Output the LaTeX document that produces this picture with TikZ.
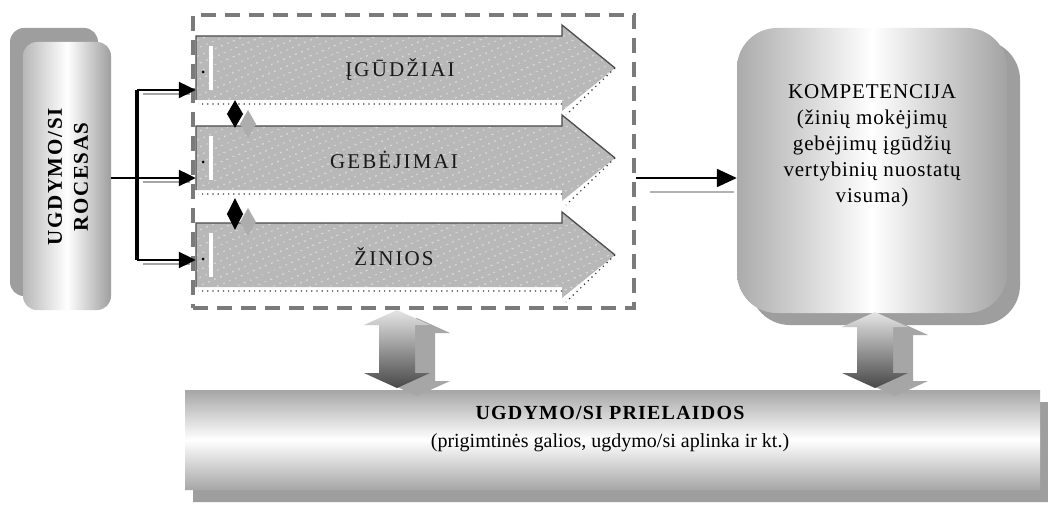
\documentclass[tikz,border=0pt]{standalone}
\usepackage{fontspec}
\setmainfont{Liberation Serif}
\usetikzlibrary{arrows.meta,patterns.meta,shapes.misc,calc}
\definecolor{argray}{HTML}{B8B8B8}
\definecolor{dashgray}{HTML}{7A7A7A}
\newcommand\skillarrow[1]{%
  \fill[argray] (196,#1-32) -- (562,#1-32) -- (562,#1-43) -- (615,#1) -- (562,#1+43) -- (562,#1+32) -- (196,#1+32) -- cycle;
  \fill[pattern={Dots[radius=0.7pt,distance=6.5pt,angle=23]}, pattern color=white] (196,#1-32) -- (562,#1-32) -- (562,#1-43) -- (615,#1) -- (562,#1+43) -- (562,#1+32) -- (196,#1+32) -- cycle;
  \draw[black!70, line width=1.3pt] (196,#1+32) -- (196,#1-32) -- (562,#1-32) -- (562,#1-43) -- (615,#1);
  \draw[black!80, line width=1.2pt, dash pattern=on 1.2pt off 4pt] (615,#1) -- (566,#1+47) (562,#1+36) -- (198,#1+36);
  \fill[white] (209,#1-22) rectangle (213,#1+22);
  \fill[black] (203,#1+4) circle (1.5);
}
\newcommand\vdarrow[3]{%
  (#1,#2) -- (#1+33,#2+15) -- (#1+18,#2+15) -- (#1+18,#3-15) -- (#1+33,#3-15) -- (#1,#3) -- (#1-33,#3-15) -- (#1-18,#3-15) -- (#1-18,#2+15) -- (#1-33,#2+15) -- cycle
}
\begin{document}
\begin{tikzpicture}[x=1pt,y=-1pt,
  lbl/.style={font=\fontsize{21}{24}\selectfont\addfontfeature{LetterSpace=10}, text=black!90, inner sep=0},
  conn/.style={line width=2.2pt, -{Triangle[length=17pt,width=16pt]}},
  ghost/.style={draw=black!35, line width=1.5pt},
  shadowfill/.style={fill=black!38},
  diamA/.style={{Triangle[length=14pt,width=16pt]}-{Triangle[length=14pt,width=16pt]}, line width=1pt},
  diamB/.style={{Triangle[length=16pt,width=16pt]}-{Triangle[length=16pt,width=16pt]}, line width=1pt},
  bodybox/.style={minimum width=366, minimum height=64, inner sep=0},
]
\useasboundingbox (0,0) rectangle (1048,505);
\fill[white] (0,0) rectangle (1048,505);

% left process box
\fill[shadowfill, rounded corners=14pt] (10,28) rectangle (98,296);
\node[rounded corners=14pt, minimum width=88, minimum height=268, inner sep=0,
  left color=black!28, right color=black!38, middle color=white] (proc) at (67,176) {};
\node[rotate=90, font=\bfseries\fontsize{21}{26}\selectfont\addfontfeature{LetterSpace=8}, align=center] (proctext) at (68,177) {UGDYMO/SI\\ROCESAS};

% dashed group
\node[draw=dashgray, line width=3.5pt, dash pattern=on 15pt off 9pt, minimum width=441, minimum height=293, inner sep=0] (grp) at (413.5,161.5) {};

% skill arrows
\skillarrow{68}
\skillarrow{158}
\skillarrow{255}
\node[bodybox] (b1) at (379,68) {};
\node[bodybox] (b2) at (379,158) {};
\node[bodybox] (b3) at (379,255) {};
\node[lbl] (l1) at (400,70) {ĮGŪDŽIAI};
\node[lbl] (l2) at (394,160) {GEBĖJIMAI};
\node[lbl] (l3) at (394,257) {ŽINIOS};

% diamonds between arrows
\coordinate (dcol) at (235,0);
\fill[black!32] (248,110) -- (256,124) -- (248,138) -- (240,124) -- cycle;
\fill[black!32] (248,208) -- (256,222) -- (248,236) -- (240,222) -- cycle;
\draw[diamA] (b1.south -| dcol) -- ($(b2.north -| dcol)+(0,2)$);
\draw[diamB] ($(b2.south -| dcol)+(0,8)$) -- ($(b3.north -| dcol)+(0,7)$);

% connectors from process
\coordinate (j1) at (137,90);
\coordinate (j2) at (137,178);
\coordinate (j3) at (137,260);
\draw[ghost] ($(j1)+(6,4)$) -- ($(j1 -| b1.west)+(-6,4)$);
\draw[ghost] ($(j2)+(6,4)$) -- ($(j2 -| b2.west)+(-6,4)$);
\draw[ghost] ($(j3)+(6,4)$) -- ($(j3 -| b3.west)+(-6,4)$);
\draw[line width=2pt] (proc.east |- j2) -- (j2);
\draw[line width=4pt] (j1) -- (j3);
\draw[conn] (j1) -- (j1 -| b1.west);
\draw[conn] (j2) -- (j2 -| b2.west);
\draw[conn] (j3) -- (j3 -| b3.west);

% competence box
\node[shadowfill, rounded corners=40pt, minimum width=270, minimum height=285, inner sep=0] (kompshadow) at (885,182.5) {};
\node[rounded corners=40pt, minimum width=270, minimum height=285, inner sep=0,
  left color=black!33, right color=black!36, middle color=white] (komp) at (872,170.5) {};
\node[align=center, font=\fontsize{21}{26}\selectfont\addfontfeature{LetterSpace=4}] (komptext) at (872,146)
  {KOMPETENCIJA\\(žinių  mokėjimų\\gebėjimų įgūdžių\\vertybinių nuostatų\\visuma)};
\coordinate (kj) at (636,178);
\draw[ghost, black!30] (650,192) -- (734,192);
\draw[conn, -{Triangle[length=20pt,width=18pt]}] (kj) -- (kj -| komp.west);

% bottom premises box
\node[shadowfill, chamfered rectangle, chamfered rectangle xsep=8pt, minimum width=855, minimum height=100, inner sep=0] (preshadow) at (620.5,452) {};
\node[chamfered rectangle, chamfered rectangle xsep=8pt, minimum width=855, minimum height=100, inner sep=0,
  top color=black!35, bottom color=black!35, middle color=white] (pre) at (612.5,440) {};
\node[align=center, font=\fontsize{20}{28}\selectfont] (pretext) at (610,429)
  {{\bfseries\addfontfeature{LetterSpace=6}UGDYMO/SI PRIELAIDOS}\\(prigimtinės galios, ugdymo/si aplinka ir kt.)};

% vertical double arrows
\fill[black!35] \vdarrow{417}{318}{396};
\shade[top color=black!10, bottom color=black!72] \vdarrow{397}{310}{388};
\fill[black!35] \vdarrow{895}{320}{396};
\shade[top color=black!10, bottom color=black!72] \vdarrow{875}{312}{388};
\end{tikzpicture}
\end{document}
